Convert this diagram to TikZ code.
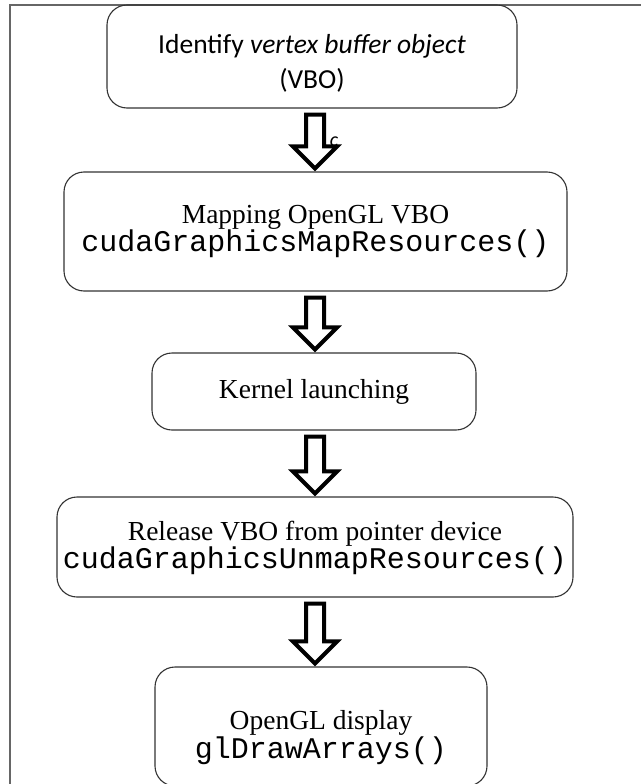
\documentclass[tikz,border=0pt]{standalone}
\usepackage{fontspec}
\setmainfont{Liberation Serif}
\setmonofont{Liberation Mono}
\newfontfamily\carlito{Carlito}
\usetikzlibrary{calc}
\newcommand\blockarrow[2]{%
  \draw[barrow] ($(#1.south -| axis)+(-9,6)$) -- ($(#2.north -| axis)+(-9,-25)$) -- ($(#2.north -| axis)+(-22,-25)$) -- ($(#2.north -| axis)+(0,-3)$) -- ($(#2.north -| axis)+(22,-25)$) -- ($(#2.north -| axis)+(9,-25)$) -- ($(#1.south -| axis)+(9,6)$) -- cycle;}
\begin{document}
\begin{tikzpicture}[x=1pt,y=-1pt,
  box/.style={draw=black!80, line width=1.1pt, rounded corners=20pt, inner sep=0pt},
  barrow/.style={draw=black, line width=4pt, fill=white, line join=miter},
  txt/.style={align=center, inner sep=0pt, font=\fontsize{27.5}{28.5}\selectfont},
  cal/.style={align=center, inner sep=0pt, font=\carlito\fontsize{27.5}{35}\selectfont}]
\useasboundingbox (0,0) rectangle (640,784);
\draw[black!60, line width=1.5pt] (10,790) -- (10,5) -- (650,5);
\coordinate (axis) at (315,0);
% boxes
\node[box, minimum width=410pt, minimum height=103pt] (b1) at (312,56.5) {};
\node[box, minimum width=503pt, minimum height=119pt] (b2) at (315.5,231.5) {};
\node[box, minimum width=324pt, minimum height=77pt] (b3) at (314,391.5) {};
\node[box, minimum width=516pt, minimum height=100pt] (b4) at (315,547) {};
\node[box, minimum width=332pt, minimum height=119pt] (b5) at (321,726.5) {};
% texts
\node[cal] (t1) at ($(b1.center)+(0,7)$) {Identify \textit{vertex buffer object}\\(VBO)};
\node[txt] (t2) at ($(b2.center)+(0,0)$) {Mapping OpenGL VBO\\{\fontsize{30}{28.5}\selectfont\ttfamily cudaGraphicsMapResources()}};
\node[txt] (t3) at ($(b3.center)+(0,0)$) {Kernel launching};
\node[txt] (t4) at ($(b4.center)+(0,1)$) {Release VBO from pointer device\\{\fontsize{30}{28.5}\selectfont\ttfamily cudaGraphicsUnmapResources()}};
\node[txt] (t5) at ($(b5.center)+(0,11)$) {OpenGL display\\{\fontsize{30}{28.5}\selectfont\ttfamily glDrawArrays()}};
% arrows
\blockarrow{b1}{b2}
\blockarrow{b2}{b3}
\blockarrow{b3}{b4}
\blockarrow{b4}{b5}
\node[font=\carlito\itshape\fontsize{20}{20}\selectfont, inner sep=0pt] (c) at (334,142) {c};
\end{tikzpicture}
\end{document}
